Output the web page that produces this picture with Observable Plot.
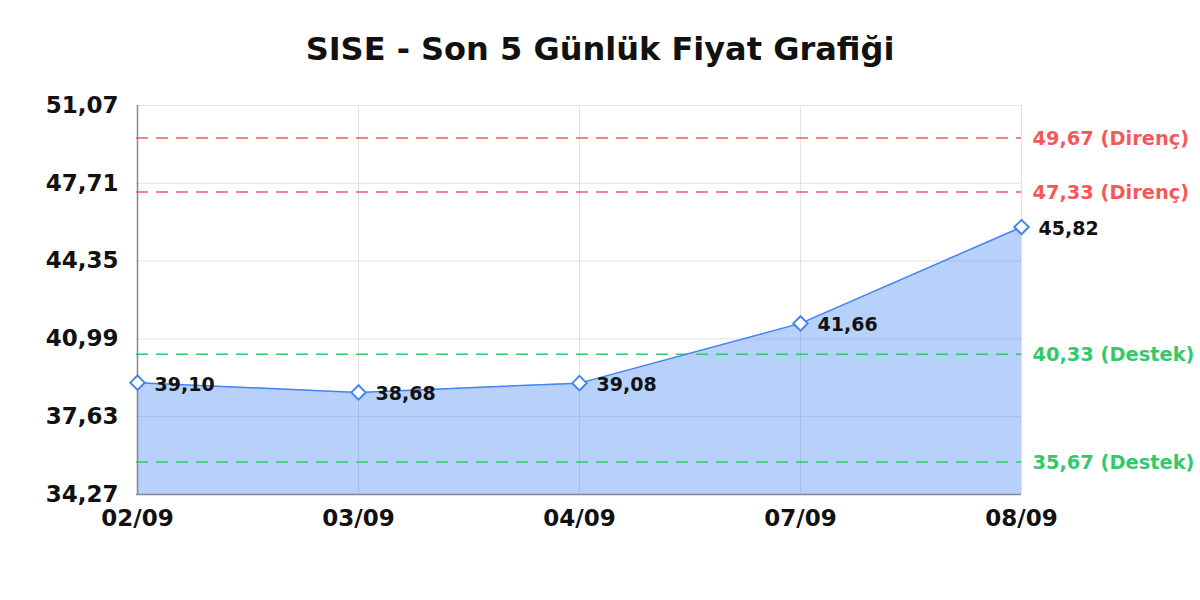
<!DOCTYPE html>
<html><head><meta charset="utf-8">
<script src="https://cdn.jsdelivr.net/npm/d3@7"></script>
<script src="https://cdn.jsdelivr.net/npm/@observablehq/plot@0.6"></script>
<style>
body{margin:0;background:#fff;font-family:"DejaVu Sans",sans-serif;}
</style></head>
<body><div id="chart"></div>
<script>
const title = "SISE - Son 5 Günlük Fiyat Grafiği";
const dates = ["02/09","03/09","04/09","07/09","08/09"];
const prices = [39.10, 38.68, 39.08, 41.66, 45.82];
const yTicks = [34.27, 37.63, 40.99, 44.35, 47.71, 51.07];
const levelValues = [49.67, 47.33, 40.33, 35.67];
const levelKinds = ["Direnç", "Direnç", "Destek", "Destek"];

const fmt = v => v.toFixed(2).replace(".", ",");
const data = dates.map((d, i) => ({date: d, price: prices[i]}));
const levels = levelValues.map((v, i) => ({value: v, kind: levelKinds[i], label: `${fmt(v)} (${levelKinds[i]})`}));
const yMin = yTicks[0], yMax = yTicks[yTicks.length - 1];
const red = "#f25a5a", green = "#33c96b", blue = "#4285f4";
const colorOf = k => k === "Direnç" ? red : green;

const chart = Plot.plot({
  width: 1200, height: 600,
  marginLeft: 136, marginRight: 179, marginTop: 105, marginBottom: 106,
  style: {fontFamily: "DejaVu Sans, sans-serif", background: "#fff"},
  x: {type: "point", domain: dates, padding: 0},
  y: {domain: [yMin, yMax]},
  marks: [
    Plot.gridX(dates, {stroke: "#e2e2e2", strokeOpacity: 1}),
    Plot.gridY(yTicks, {stroke: "#e2e2e2", strokeOpacity: 1}),
    Plot.areaY(data, {x: "date", y1: () => yMin, y2: "price", fill: blue, fillOpacity: 0.38}),
    Plot.ruleY(levels, {y: "value", stroke: d => colorOf(d.kind), strokeWidth: 1.5, strokeDasharray: "12,8"}),
    Plot.text(levels, {y: "value", x: () => dates[dates.length - 1], text: "label", fill: d => colorOf(d.kind), textAnchor: "start", dx: 11, dy: 1, fontSize: 19.4, fontWeight: "bold"}),
    Plot.lineY(data, {x: "date", y: "price", stroke: blue, strokeWidth: 1.5}),
    Plot.ruleX([dates[0]], {stroke: "#888", strokeWidth: 1.5}),
    Plot.ruleY([yMin], {stroke: "#888", strokeWidth: 1.5}),
    Plot.dot(data, {x: "date", y: "price", symbol: "diamond2", r: 6.5, fill: "#fff", stroke: blue, strokeWidth: 2}),
    Plot.text(data, {x: "date", y: "price", text: d => fmt(d.price), textAnchor: "start", dx: 17, dy: 2, fontSize: 19, fontWeight: "bold", fill: "#111"}),
    Plot.axisY({ticks: yTicks, tickFormat: fmt, tickSize: 0, tickPadding: 18, fontSize: 23, fontWeight: "bold", label: null, color: "#111"}),
    Plot.axisX({tickSize: 0, tickPadding: 15, fontSize: 23, fontWeight: "bold", label: null, color: "#111"}),
    Plot.text([title], {frameAnchor: "top", lineAnchor: "middle", dx: 21, dy: -56, fontSize: 32, fontWeight: "bold", fill: "#111"})
  ]
});
document.getElementById("chart").appendChild(chart);
</script></body></html>
